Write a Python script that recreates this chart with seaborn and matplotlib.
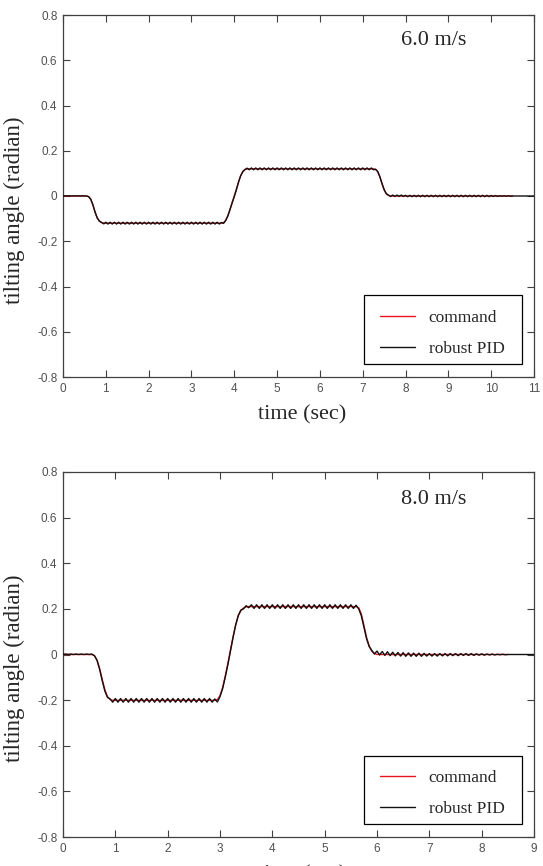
import numpy as np
import pandas as pd
import seaborn as sns
import matplotlib.pyplot as plt
from matplotlib.patches import Rectangle

# ---- data ----
# 6.0 m/s : command profile (knots)
t_cmd_6 = [0, 0.55, 0.6, 0.65, 0.7, 0.75, 0.8, 0.85, 0.9, 0.95, 3.70, 3.75, 3.8, 3.85, 3.9, 3.95,
           4.0, 4.05, 4.1, 4.15, 4.2, 4.25, 4.3, 4.35, 7.25, 7.3, 7.35, 7.4, 7.45, 7.5, 7.55, 7.6, 7.65, 10.5]
y_cmd_6 = [0, 0, -0.003, -0.015, -0.040, -0.072, -0.097, -0.111, -0.117, -0.120, -0.120, -0.118, -0.108,
           -0.088, -0.060, -0.030, 0.0, 0.030, 0.062, 0.090, 0.108, 0.117, 0.120, 0.120, 0.120, 0.118, 0.108,
           0.085, 0.055, 0.028, 0.010, 0.003, 0.0, 0.0]

# 6.0 m/s : robust PID response, sampled every 0.05 s (one row = 1 s)
y_pid_6 = [
    0.000, 0.001, 0.000, 0.001, 0.000, 0.001, 0.000, 0.001, 0.000, 0.001, 0.000, 0.000, -0.003, -0.015, -0.040, -0.072, -0.097, -0.111, -0.117, -0.123,
    -0.116, -0.124, -0.116, -0.124, -0.116, -0.124, -0.116, -0.124, -0.116, -0.124, -0.116, -0.124, -0.116, -0.124, -0.116, -0.124, -0.116, -0.124, -0.116, -0.124,
    -0.116, -0.124, -0.116, -0.124, -0.116, -0.124, -0.116, -0.124, -0.116, -0.124, -0.116, -0.124, -0.116, -0.124, -0.116, -0.124, -0.116, -0.124, -0.116, -0.124,
    -0.116, -0.124, -0.116, -0.124, -0.116, -0.124, -0.116, -0.124, -0.116, -0.124, -0.116, -0.124, -0.116, -0.124, -0.117, -0.121, -0.108, -0.088, -0.060, -0.030,
    -0.003, 0.028, 0.062, 0.090, 0.108, 0.117, 0.123, 0.116, 0.124, 0.116, 0.124, 0.116, 0.124, 0.116, 0.124, 0.116, 0.124, 0.116, 0.124, 0.116,
    0.124, 0.116, 0.124, 0.116, 0.124, 0.116, 0.124, 0.116, 0.124, 0.116, 0.124, 0.116, 0.124, 0.116, 0.124, 0.116, 0.124, 0.116, 0.124, 0.116,
    0.124, 0.116, 0.124, 0.116, 0.124, 0.116, 0.124, 0.116, 0.124, 0.116, 0.124, 0.116, 0.124, 0.116, 0.124, 0.116, 0.124, 0.116, 0.124, 0.116,
    0.124, 0.116, 0.124, 0.116, 0.124, 0.116, 0.118, 0.108, 0.085, 0.055, 0.028, 0.010, 0.004, -0.002, 0.004, -0.002, 0.004, -0.002, 0.004, -0.002,
    0.003, -0.003, 0.003, -0.003, 0.003, -0.003, 0.003, -0.003, 0.003, -0.003, 0.003, -0.003, 0.003, -0.003, 0.003, -0.003, 0.003, -0.003, 0.003, -0.003,
    0.003, -0.003, 0.003, -0.003, 0.003, -0.003, 0.003, -0.003, 0.003, -0.003, 0.003, -0.003, 0.003, -0.003, 0.003, -0.003, 0.003, -0.003, 0.003, -0.003,
    0.002, -0.002, 0.002, -0.002, 0.001, -0.001, 0.001, -0.001, 0.001, -0.001, 0.000, 0.000, 0.000, 0.000, 0.000, 0.000, 0.000, 0.000, 0.000, 0.000,
    0.000]

# 8.0 m/s : command profile (knots)
t_cmd_8 = [0, 0.55, 0.6, 0.65, 0.7, 0.75, 0.8, 0.85, 0.9, 0.95, 2.9, 2.95, 3.0, 3.05, 3.1, 3.15, 3.2,
           3.25, 3.3, 3.35, 3.4, 3.45, 3.5, 3.55, 5.6, 5.65, 5.7, 5.75, 5.8, 5.85, 5.9, 5.95, 6.0, 8.5]
y_cmd_8 = [0, 0, -0.005, -0.025, -0.062, -0.110, -0.155, -0.185, -0.197, -0.201, -0.201, -0.198, -0.180,
           -0.145, -0.095, -0.040, 0.020, 0.078, 0.130, 0.170, 0.193, 0.204, 0.209, 0.210, 0.210, 0.205,
           0.178, 0.128, 0.075, 0.038, 0.015, 0.005, 0.0, 0.0]

# 8.0 m/s : robust PID response, sampled every 0.05 s (one row = 1 s)
y_pid_8 = [
    0.000, 0.002, 0.000, 0.002, 0.000, 0.002, 0.000, 0.002, 0.000, 0.002, 0.000, 0.002, -0.005, -0.025, -0.065, -0.115, -0.160, -0.188, -0.195, -0.209,
    -0.193, -0.209, -0.193, -0.209, -0.193, -0.209, -0.193, -0.209, -0.193, -0.209, -0.193, -0.209, -0.193, -0.209, -0.193, -0.209, -0.193, -0.209, -0.193, -0.209,
    -0.193, -0.209, -0.193, -0.209, -0.193, -0.209, -0.193, -0.209, -0.193, -0.209, -0.193, -0.209, -0.193, -0.209, -0.193, -0.209, -0.193, -0.209, -0.195, -0.208,
    -0.185, -0.150, -0.100, -0.045, 0.015, 0.075, 0.130, 0.172, 0.195, 0.200, 0.214, 0.205, 0.218, 0.202, 0.218, 0.202, 0.218, 0.202, 0.218, 0.202,
    0.218, 0.202, 0.218, 0.202, 0.218, 0.202, 0.218, 0.202, 0.218, 0.202, 0.218, 0.202, 0.218, 0.202, 0.218, 0.202, 0.218, 0.202, 0.218, 0.202,
    0.218, 0.202, 0.218, 0.202, 0.218, 0.202, 0.218, 0.202, 0.218, 0.202, 0.218, 0.202, 0.216, 0.200, 0.170, 0.120, 0.070, 0.035, 0.018, 0.002,
    0.015, -0.002, 0.013, -0.004, 0.012, -0.005, 0.010, -0.006, 0.009, -0.007, 0.008, -0.008, 0.007, -0.008, 0.006, -0.008, 0.006, -0.008, 0.005, -0.007,
    0.004, -0.007, 0.004, -0.007, 0.004, -0.006, 0.004, -0.006, 0.004, -0.005, 0.004, -0.005, 0.004, -0.004, 0.004, -0.004, 0.004, -0.004, 0.003, -0.003,
    0.003, -0.003, 0.002, -0.002, 0.002, -0.002, 0.001, -0.001, 0.001, -0.001, 0.000, 0.000, 0.000, 0.000, 0.000, 0.000, 0.000, 0.000, 0.000, 0.000,
    0.000]

dt = 0.05
y_ticks = [-0.8, -0.6, -0.4, -0.2, 0, 0.2, 0.4, 0.6, 0.8]
y_tick_labels = ['-0.8', '-0.6', '-0.4', '-0.2', '0', '0.2', '0.4', '0.6', '0.8']

sns.set_style("ticks")
serif = ['Liberation Serif', 'DejaVu Serif']
sans = ['Liberation Sans', 'DejaVu Sans']
plt.rcParams['font.family'] = sans

fig = plt.figure(figsize=(5.43, 8.66), dpi=100)
ax1 = fig.add_axes([63 / 543, 1 - 377 / 866, 471 / 543, 362 / 866])
ax2 = fig.add_axes([63 / 543, 1 - 837 / 866, 471 / 543, 365 / 866])

# axes, command t/y, pid y, x max, speed text y, legend box (y0, h), ylabel y
panels = [
    (ax1, t_cmd_6, y_cmd_6, y_pid_6, 11, '6.0 m/s', 0.93, (0.036, 0.191), 0.46, 0.12),
    (ax2, t_cmd_8, y_cmd_8, y_pid_8, 9, '8.0 m/s', 0.926, (0.036, 0.186), 0.463, 0.119),
]

for ax, tc, yc, yp, tmax, speed, sp_y, box, yl_y, leg_y in panels:
    t_pid = np.arange(len(yp)) * dt
    cmd = pd.DataFrame({'t': tc, 'y': yc})
    pid = pd.DataFrame({'t': t_pid, 'y': yp})
    sns.lineplot(data=cmd, x='t', y='y', ax=ax, color='#e8141c', lw=1.0,
                 estimator=None, sort=False, label='command', zorder=2)
    sns.lineplot(data=pid, x='t', y='y', ax=ax, color='#111111', lw=1.0,
                 estimator=None, sort=False, label='robust PID', zorder=3)

    ax.set_xlim(0, tmax)
    ax.set_ylim(-0.8, 0.8)
    ax.set_xticks(range(0, tmax + 1))
    ax.set_xticklabels([str(v) for v in range(0, tmax + 1)])
    ax.set_yticks(y_ticks)
    ax.set_yticklabels(y_tick_labels)
    ax.tick_params(direction='in', length=5, width=0.8, top=True, right=True,
                   labelsize=8.5, labelcolor='#505050', color='#404040', pad=4)
    for s in ax.spines.values():
        s.set_linewidth(0.9)
        s.set_color('#404040')

    ax.set_xlabel('time (sec)', family=serif, fontsize=16, va='center')
    ax.xaxis.set_label_coords(0.507, -0.105)
    ax.set_ylabel('tilting angle (radian)', family=serif, fontsize=16.5, va='center')
    ax.yaxis.set_label_coords(-0.104, yl_y)
    ax.text(0.786, sp_y, speed, transform=ax.transAxes, family=serif, fontsize=16,
            ha='center', va='center')

    # legend frame drawn as its own box, entries centred inside it
    ax.add_patch(Rectangle((0.639, box[0]), 0.336, box[1], transform=ax.transAxes,
                           fill=False, edgecolor='black', lw=0.9, zorder=5))
    leg = ax.legend(loc='center', bbox_to_anchor=(0.805, leg_y), frameon=False,
                    prop={'family': serif, 'size': 12.5}, handlelength=2.0,
                    handletextpad=0.8, labelspacing=0.85, borderpad=0, borderaxespad=0)
    for line in leg.get_lines():
        line.set_linewidth(1.0)

fig.savefig('out.png', dpi=100)
